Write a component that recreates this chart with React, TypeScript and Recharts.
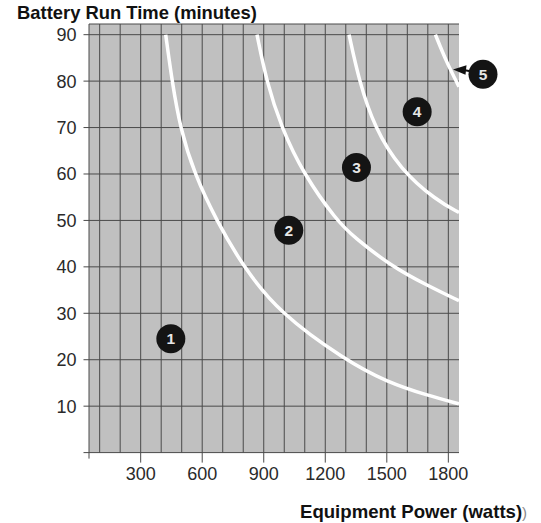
import { CartesianGrid, Line, LineChart, ReferenceDot, XAxis, YAxis } from "recharts";

// run time (minutes) against load (watts), one list per battery curve
const curve1 = [
  { w: 422, min: 90 },
  { w: 453, min: 80 },
  { w: 492, min: 70 },
  { w: 562, min: 60 },
  { w: 669, min: 50 },
  { w: 800, min: 40 },
  { w: 978, min: 30 },
  { w: 1295, min: 20 },
  { w: 1500, min: 15.2 },
  { w: 1700, min: 12.3 },
  { w: 1852, min: 10.5 },
];

const curve2 = [
  { w: 867, min: 90 },
  { w: 913, min: 80 },
  { w: 986, min: 70 },
  { w: 1094, min: 60 },
  { w: 1255, min: 50 },
  { w: 1340, min: 46.4 },
  { w: 1520, min: 40.2 },
  { w: 1701, min: 35.9 },
  { w: 1852, min: 32.7 },
];

const curve3 = [
  { w: 1316, min: 90 },
  { w: 1365, min: 80 },
  { w: 1440, min: 70 },
  { w: 1565, min: 61 },
  { w: 1742, min: 54.3 },
  { w: 1852, min: 51.7 },
];

const curve4 = [
  { w: 1737, min: 90 },
  { w: 1791, min: 84.1 },
  { w: 1852, min: 78.8 },
];

const regionLabels = [
  { id: "1", w: 447, min: 24.5 },
  { id: "2", w: 1022, min: 47.9 },
  { id: "3", w: 1352, min: 61.4 },
  { id: "4", w: 1648, min: 73.4 },
  { id: "5", w: 1969, min: 81.5 },
];

const xTickLabels = [300, 600, 900, 1200, 1500, 1800];
const yTickLabels = [0, 10, 20, 30, 40, 50, 60, 70, 80, 90];
const xGridValues = [48, 100, 200, 300, 400, 500, 600, 700, 800, 900, 1000, 1100, 1200, 1300, 1400, 1500, 1600, 1700, 1800];

const X_MIN = 48;
const X_MAX = 1852;
const Y_MAX = 92.3;

const FONT = "'Liberation Sans', Arial, Helvetica, sans-serif";
const GRID_COLOR = "#4a4a4a";

const XTick = ({ x, y, payload }: any) => {
  const edge = payload.value === X_MIN;
  return (
    <g>
      <line x1={x} x2={x} y1={y} y2={y + (edge ? 6 : 10)} stroke={GRID_COLOR} strokeWidth={1} />
      {!edge && (
        <text x={x} y={y + 27.5} textAnchor="middle" fontSize={18} fontFamily={FONT} fill="#2a2a2a">
          {payload.value}
        </text>
      )}
    </g>
  );
};

const makeBadge = (id: string) => (props: any) => {
  const { cx, cy } = props;
  return (
    <g>
      {id === "5" && (
        <g>
          <path
            d={`M${cx - 30},${cy - 4.6} L${cx - 16.5},${cy - 9} L${cx - 17.5},${cy + 0.5} Z`}
            fill="#111"
          />
          <line x1={cx - 18} y1={cy - 4} x2={cx - 10} y2={cy - 2.5} stroke="#111" strokeWidth={2} />
        </g>
      )}
      <circle cx={cx} cy={cy} r={14.5} fill="#141414" />
      <text
        x={cx}
        y={cy + 5.5}
        textAnchor="middle"
        fontSize={15.5}
        fontWeight="bold"
        fontFamily={FONT}
        fill="#e6e6e6"
      >
        {id}
      </text>
    </g>
  );
};

const curves = [curve1, curve2, curve3, curve4];

export default function App() {
  return (
    <div style={{ position: "absolute", left: 0, top: 0, width: 541, height: 523, background: "#fff" }}>
      <LineChart
        width={541}
        height={523}
        margin={{ top: 24, right: 82, bottom: 40.4, left: 0 }}
      >
        <CartesianGrid
          fill="#c0c0c0"
          fillOpacity={1}
          stroke={GRID_COLOR}
          strokeWidth={1}
          horizontalValues={[...yTickLabels, Y_MAX]}
          verticalValues={xGridValues}
        />
        <XAxis
          type="number"
          dataKey="w"
          domain={[X_MIN, X_MAX]}
          ticks={[X_MIN, ...xTickLabels]}
          allowDataOverflow
          axisLine={false}
          tickLine={false}
          tickSize={0}
          tickMargin={0}
          height={30}
          tick={<XTick />}
          interval={0}
        />
        <YAxis
          type="number"
          dataKey="min"
          domain={[0, Y_MAX]}
          ticks={yTickLabels}
          allowDataOverflow
          axisLine={false}
          width={89}
          tickSize={5.5}
          tickMargin={7}
          tickLine={{ stroke: GRID_COLOR }}
          tick={{ fontSize: 18, fontFamily: FONT, fill: "#2a2a2a" }}
          tickFormatter={(v: number) => (v === 0 ? "" : `${v}`)}
          interval={0}
        />
        {curves.map((data, i) => (
          <Line
            key={i}
            data={data}
            dataKey="min"
            type="basis"
            stroke="#ffffff"
            strokeWidth={3.5}
            dot={false}
            activeDot={false}
            isAnimationActive={false}
          />
        ))}
        {regionLabels.map((lab) => (
          <ReferenceDot
            key={lab.id}
            x={lab.w}
            y={lab.min}
            r={14.5}
            ifOverflow="visible"
            shape={makeBadge(lab.id)}
          />
        ))}
      </LineChart>
      <svg
        width={541}
        height={523}
        style={{ position: "absolute", left: 0, top: 0, pointerEvents: "none" }}
      >
        <text x={17} y={19} fontSize={18.4} fontWeight="bold" fontFamily={FONT} fill="#111">
          Battery Run Time (minutes)
        </text>
        <text x={300} y={517.5} fontSize={18.6} fontWeight="bold" fontFamily={FONT} fill="#111">
          Equipment Power (watts)
          <tspan fontWeight="normal" fontSize={15} fill="#8a8a8a">)</tspan>
        </text>
      </svg>
    </div>
  );
}
